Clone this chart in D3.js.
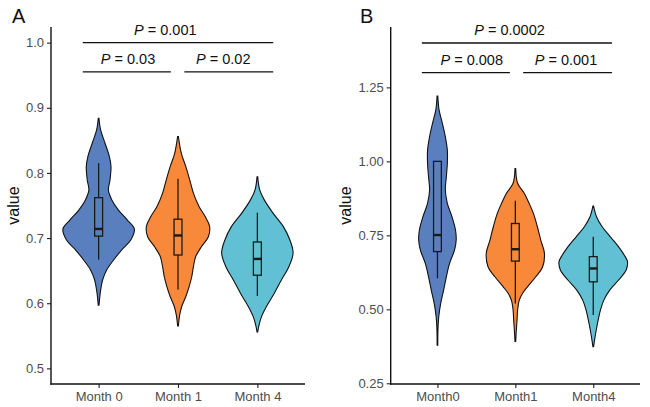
<!DOCTYPE html>
<html><head><meta charset="utf-8">
<script src="https://cdn.jsdelivr.net/npm/d3@7/dist/d3.min.js"></script>
<style>body{margin:0;background:#fff}svg{display:block}</style>
</head><body><svg id="c" width="650" height="407"></svg>
<script>
// ---------- data ----------
const categoriesA = ["Month 0", "Month 1", "Month 4"];
const categoriesB = ["Month0", "Month1", "Month4"];
const yTicksA = [0.5, 0.6, 0.7, 0.8, 0.9, 1.0];
const yTicksB = [0.25, 0.50, 0.75, 1.00, 1.25];
const colors = ["#5a7fbe", "#f8883a", "#62c0d4"];

// violin profiles: [value, relative density]
const violinA_month0 = [[0.884,0.01],[0.866,0.056],[0.846,0.177],[0.825,0.301],[0.810,0.346],[0.789,0.318],[0.774,0.273],[0.759,0.366],[0.743,0.555],[0.728,0.80],[0.714,1.0],[0.697,0.90],[0.682,0.648],[0.666,0.414],[0.651,0.225],[0.636,0.113],[0.620,0.056],[0.597,0.01]];
const violinA_month1 = [[0.856,0.01],[0.830,0.093],[0.810,0.217],[0.789,0.330],[0.769,0.431],[0.748,0.592],[0.733,0.761],[0.718,0.885],[0.702,0.85],[0.687,0.66],[0.672,0.499],[0.656,0.431],[0.641,0.386],[0.625,0.310],[0.610,0.217],[0.595,0.104],[0.582,0.048],[0.565,0.01]];
const violinA_month4 = [[0.794,0.01],[0.774,0.065],[0.759,0.189],[0.738,0.442],[0.718,0.724],[0.697,0.910],[0.677,1.0],[0.656,0.882],[0.636,0.676],[0.615,0.470],[0.595,0.254],[0.579,0.113],[0.564,0.037],[0.556,0.01]];
const violinB_month0 = [[1.221,0.01],[1.173,0.048],[1.128,0.141],[1.083,0.225],[1.038,0.282],[0.993,0.282],[0.948,0.254],[0.903,0.225],[0.858,0.282],[0.813,0.414],[0.768,0.515],[0.734,0.535],[0.700,0.487],[0.655,0.346],[0.610,0.254],[0.565,0.177],[0.520,0.093],[0.475,0.037],[0.430,0.014],[0.379,0.01]];
const violinB_month1 = [[0.976,0.01],[0.926,0.065],[0.892,0.254],[0.858,0.394],[0.824,0.515],[0.779,0.628],[0.734,0.724],[0.689,0.83],[0.644,0.78],[0.610,0.583],[0.576,0.346],[0.554,0.206],[0.531,0.113],[0.498,0.065],[0.464,0.048],[0.430,0.028],[0.391,0.01]];
const violinB_month4 = [[0.849,0.01],[0.813,0.093],[0.779,0.254],[0.745,0.487],[0.711,0.724],[0.678,0.910],[0.661,0.977],[0.633,0.938],[0.599,0.724],[0.565,0.470],[0.531,0.301],[0.498,0.206],[0.464,0.141],[0.430,0.085],[0.396,0.037],[0.374,0.01]];

// box stats: [whisker low, q1, median, q3, whisker high]
const boxA = [[0.667,0.703,0.714,0.762,0.815],[0.621,0.674,0.704,0.729,0.791],[0.611,0.643,0.668,0.694,0.739]];
const boxB = [[0.605,0.695,0.751,1.000,1.000],[0.520,0.663,0.703,0.790,0.867],[0.481,0.593,0.638,0.678,0.745]];

// significance brackets: [x1, x2, y, text x, label]  (x in category units, 1-based)
const bracketsA = [[0.8,3.2,1.000,1.84,"0.001"],[0.8,1.91,0.955,1.37,"0.03"],[2.08,3.2,0.955,2.57,"0.02"]];
const bracketsB = [[0.8,3.24,1.40,1.925,"0.0002"],[0.8,1.93,1.30,1.44,"0.008"],[2.10,3.24,1.30,2.65,"0.001"]];

// ---------- drawing ----------
const svg = d3.select("#c");
const FONT = "'Liberation Sans', Arial, sans-serif";

function panel(cfg) {
  const g = svg.append("g");
  const x = d3.scalePoint().domain(cfg.cats).range([cfg.left, cfg.right]).padding(0.6);
  const xu = d3.scaleLinear().domain([0.4, cfg.cats.length + 0.6]).range([cfg.left, cfg.right]);
  const y = d3.scaleLinear().domain(cfg.yDomain).range([cfg.bottom, cfg.top]);
  const step = x.step();
  const w = d3.scaleLinear().domain([0, 1]).range([0, 0.45 * step]);

  // violins
  cfg.violins.forEach((prof, i) => {
    const cx = x(cfg.cats[i]);
    const area = d3.area()
      .y(d => y(d[0]))
      .x0(d => cx - w(d[1]))
      .x1(d => cx + w(d[1]))
      .curve(d3.curveCatmullRom.alpha(0.5));
    g.append("path").datum(prof).attr("d", area)
      .attr("fill", colors[i]).attr("stroke", "#111").attr("stroke-width", 1.1);
  });

  // boxes
  const bw = 0.1 * step;
  cfg.boxes.forEach((b, i) => {
    const cx = x(cfg.cats[i]);
    g.append("line").attr("x1", cx).attr("x2", cx).attr("y1", y(b[0])).attr("y2", y(b[1]))
      .attr("stroke", "#1a1a1a").attr("stroke-width", 1.3);
    g.append("line").attr("x1", cx).attr("x2", cx).attr("y1", y(b[3])).attr("y2", y(b[4]))
      .attr("stroke", "#1a1a1a").attr("stroke-width", 1.3);
    g.append("rect").attr("x", cx - bw / 2).attr("width", bw)
      .attr("y", y(b[3])).attr("height", y(b[1]) - y(b[3]))
      .attr("fill", "none").attr("stroke", "#1a1a1a").attr("stroke-width", 1.3);
    g.append("line").attr("x1", cx - bw / 2).attr("x2", cx + bw / 2).attr("y1", y(b[2])).attr("y2", y(b[2]))
      .attr("stroke", "#1a1a1a").attr("stroke-width", 2.4);
  });

  // axes
  const ya = d3.axisLeft(y).tickValues(cfg.yTicks).tickFormat(d3.format(cfg.fmt)).tickSize(4).tickPadding(3);
  const yg = g.append("g").attr("transform", `translate(${cfg.left},0)`).call(ya);
  const xa = d3.axisBottom(x).tickSize(4).tickPadding(4);
  const xg = g.append("g").attr("transform", `translate(0,${cfg.bottom})`).call(xa);
  [yg, xg].forEach(a => {
    a.select(".domain").remove();
    a.selectAll(".tick line").attr("stroke", "#222").attr("stroke-width", 1.1);
    a.selectAll(".tick text").attr("fill", "#4d4d4d").style("font-family", FONT).style("font-size", "13px");
  });
  g.append("line").attr("x1", cfg.left).attr("x2", cfg.left).attr("y1", cfg.top).attr("y2", cfg.bottom + 0.7)
    .attr("stroke", "#111").attr("stroke-width", 1.4);
  g.append("line").attr("x1", cfg.left - 0.7).attr("x2", cfg.right).attr("y1", cfg.bottom).attr("y2", cfg.bottom)
    .attr("stroke", "#111").attr("stroke-width", 1.4);

  // y title
  g.append("text").attr("transform", `translate(${cfg.titleX},${(cfg.top + cfg.bottom) / 2}) rotate(-90)`)
    .attr("text-anchor", "middle").attr("dy", "0.35em")
    .style("font-family", FONT).style("font-size", "16px").attr("fill", "#111").text("value");

  // panel letter
  g.append("text").attr("x", cfg.letterX).attr("y", 23).style("font-family", FONT)
    .style("font-size", "20px").attr("fill", "#111").text(cfg.letter);

  // brackets
  cfg.brackets.forEach(b => {
    g.append("line").attr("x1", xu(b[0])).attr("x2", xu(b[1])).attr("y1", y(b[2])).attr("y2", y(b[2]))
      .attr("stroke", "#111").attr("stroke-width", 1.3);
    const t = g.append("text").attr("x", xu(b[3])).attr("y", y(b[2]) - 8)
      .attr("text-anchor", "middle").style("font-family", FONT).style("font-size", "14.5px").attr("fill", "#111");
    t.append("tspan").style("font-style", "italic").text("P");
    t.append("tspan").text(" = " + b[4]);
  });
}

panel({
  cats: categoriesA, left: 51, right: 305, top: 27, bottom: 384,
  yDomain: [0.476, 1.024], yTicks: yTicksA, fmt: ".1f",
  violins: [violinA_month0, violinA_month1, violinA_month4], boxes: boxA,
  brackets: bracketsA, titleX: 13, letter: "A", letterX: 12
});
panel({
  cats: categoriesB, left: 390.7, right: 640, top: 27, bottom: 384,
  yDomain: [0.2476, 1.454], yTicks: yTicksB, fmt: ".2f",
  violins: [violinB_month0, violinB_month1, violinB_month4], boxes: boxB,
  brackets: bracketsB, titleX: 345, letter: "B", letterX: 360
});
</script>
</body></html>
